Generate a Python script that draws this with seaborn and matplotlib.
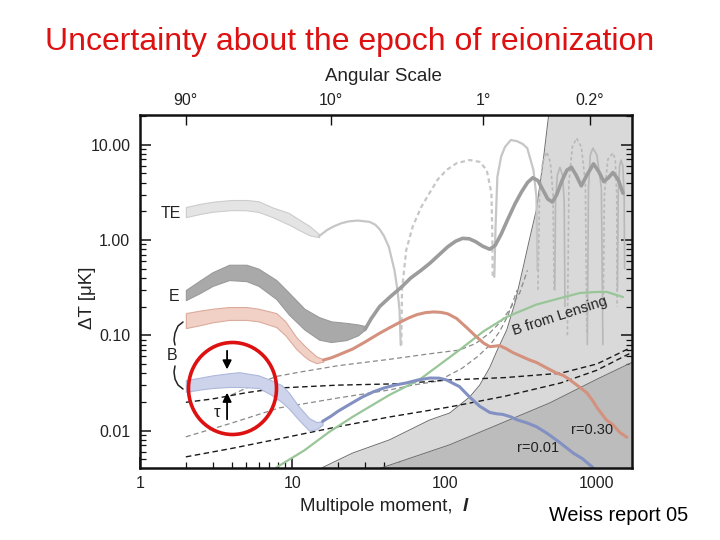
import numpy as np
import pandas as pd
import matplotlib
matplotlib.use("Agg")
import matplotlib.pyplot as plt
from matplotlib.lines import Line2D
from matplotlib.patches import Ellipse
from matplotlib.ticker import LogLocator, NullLocator, NullFormatter
import seaborn as sns

# ---------------- data ----------------
# foreground / noise regions
light_l = [15.8, 24.8, 43.5, 79.6, 108, 146, 170, 198, 220, 256, 290, 325, 360, 400, 440, 483, 1700]
light_v = [0.0041, 0.0058, 0.0080, 0.0129, 0.0153, 0.0225, 0.03, 0.046, 0.068, 0.114, 0.22, 0.485, 1.0, 2.06, 6.0, 21.0, 21.0]
dark_l = [37.4, 108, 200, 490, 1000, 1700]
dark_v = [0.004, 0.0071, 0.0107, 0.0195, 0.0346, 0.052]

# TE band and |TE| curve
te_band_l = [2, 2.5, 3, 4, 5, 6, 7.4, 9.5, 11, 13, 15]
te_band_lo = [1.74, 1.88, 1.98, 2.06, 2.05, 1.97, 1.74, 1.45, 1.28, 1.12, 1.07]
te_band_hi = [2.22, 2.40, 2.52, 2.63, 2.63, 2.55, 2.20, 1.92, 1.65, 1.40, 1.15]
te_s1_l = [15, 17, 18.9, 21, 23.6, 27, 32.1, 35, 37.4, 40, 43, 46.9, 49, 50.6, 51.5]
te_s1_v = [1.10, 1.28, 1.40, 1.50, 1.57, 1.60, 1.55, 1.45, 1.30, 1.1, 0.85, 0.48, 0.3, 0.184, 0.079]
te_d1_l = [52, 52.5, 56, 61.6, 70, 79.6, 90, 103, 120, 146, 170, 189, 203, 206, 207]
te_d1_v = [0.079, 0.30, 0.786, 1.37, 2.2, 3.11, 4.3, 5.43, 6.4, 6.91, 6.6, 5.43, 3.11, 1.0, 0.41]
te_s2_l = [212, 216, 222, 235, 249, 272, 298, 325, 349, 383, 401, 407]
te_s2_v = [0.41, 1.37, 4.58, 7.5, 9.45, 11.2, 10.9, 10.2, 9.2, 5.43, 2.83, 0.485]
te_arches_dashed = [
    ([410, 420, 440, 469, 495, 515, 524], [0.3, 3.0, 6.5, 8.4, 6.5, 3.0, 0.3]),
    ([640, 655, 690, 735, 790, 840, 859], [0.1, 4.0, 9.5, 11.7, 9.5, 4.0, 0.1]),
    ([1100, 1120, 1180, 1274, 1320, 1350, 1357], [0.2, 3.0, 7.0, 8.2, 7.0, 3.0, 0.2]),
]
te_arches_solid = [
    ([529, 535, 550, 572, 595, 610, 617], [0.3, 2.5, 4.8, 5.8, 4.8, 2.5, 0.2]),
    ([865, 880, 905, 941, 1000, 1070, 1095], [0.08, 3.5, 7.8, 9.2, 7.8, 3.5, 0.08]),
    ([1365, 1380, 1410, 1440, 1480, 1510, 1520], [0.3, 3.0, 6.0, 6.9, 6.0, 3.0, 0.5]),
]

# E band and curve
e_band_l = [2, 2.5, 3, 3.85, 5, 6, 7.85, 9.5, 12, 15, 18, 22.6, 27, 30]
e_band_lo = [0.234, 0.28, 0.33, 0.38, 0.37, 0.33, 0.24, 0.165, 0.115, 0.09, 0.085, 0.089, 0.10, 0.115]
e_band_hi = [0.299, 0.38, 0.46, 0.55, 0.55, 0.50, 0.38, 0.28, 0.19, 0.155, 0.14, 0.135, 0.13, 0.125]
e_l = [30, 33, 37.4, 43.5, 52, 60, 70, 80, 92, 105, 118, 131, 145, 160, 178, 198, 215, 235, 260,
       290, 320, 350, 379, 410, 440, 475, 510, 545, 590, 635, 680, 730, 790, 860, 950, 1030, 1110,
       1190, 1274, 1380, 1483]
e_v = [0.115, 0.15, 0.2, 0.25, 0.32, 0.40, 0.48, 0.57, 0.70, 0.85, 0.97, 1.04, 1.03, 0.96, 0.86,
       0.80, 0.88, 1.15, 1.65, 2.4, 3.2, 4.0, 4.5, 4.2, 3.4, 2.7, 2.5, 3.0, 4.2, 5.4, 5.8, 4.8, 3.7,
       4.8, 6.3, 5.2, 4.1, 4.5, 5.1, 4.3, 3.1]

# B mode, r = 0.30
rb_l = [2, 2.5, 3, 3.85, 5, 6, 7.85, 9, 10.6, 12, 12.9, 14.4, 16]
rb_lo = [0.119, 0.128, 0.137, 0.145, 0.145, 0.14, 0.122, 0.10, 0.072, 0.060, 0.055, 0.051, 0.053]
rb_hi = [0.171, 0.182, 0.19, 0.198, 0.198, 0.19, 0.171, 0.14, 0.096, 0.078, 0.070, 0.060, 0.056]
r30_l = [16, 18, 20, 25, 30, 37.4, 43.5, 50, 58, 66, 75, 85, 95, 105, 120, 140, 160, 180, 198,
         215, 230, 255, 280, 320, 362, 400, 450, 500, 546, 600, 650, 700, 760, 859, 930, 1000,
         1150, 1274, 1420, 1574]
r30_v = [0.055, 0.058, 0.062, 0.072, 0.085, 0.105, 0.12, 0.135, 0.152, 0.165, 0.173, 0.176, 0.174,
         0.168, 0.15, 0.12, 0.098, 0.083, 0.076, 0.077, 0.078, 0.072, 0.066, 0.060, 0.055, 0.052,
         0.047, 0.043, 0.040, 0.038, 0.035, 0.032, 0.029, 0.0249, 0.021, 0.0175, 0.013, 0.0115,
         0.0095, 0.0085]

# B mode, r = 0.01
bb_l = [2, 2.5, 3, 3.85, 4.48, 6, 7.2, 8.5, 9.5, 11, 12.9, 14.4, 15.8]
bb_lo = [0.0255, 0.027, 0.028, 0.0287, 0.0287, 0.028, 0.024, 0.02, 0.017, 0.013, 0.0100, 0.0103, 0.0115]
bb_hi = [0.0339, 0.036, 0.038, 0.040, 0.041, 0.038, 0.034, 0.030, 0.025, 0.018, 0.0135, 0.0123, 0.0125]
r01_l = [15.8, 18, 20, 24, 28.8, 34, 40, 47, 56, 67, 80, 92, 103, 115, 125, 146, 170, 198, 220,
         240, 270, 298, 350, 400, 469, 570, 700, 800, 941]
r01_v = [0.0125, 0.0142, 0.016, 0.019, 0.0225, 0.0255, 0.028, 0.030, 0.0316, 0.034, 0.0356,
         0.0355, 0.034, 0.031, 0.029, 0.0225, 0.018, 0.0155, 0.015, 0.0148, 0.014, 0.013, 0.012,
         0.011, 0.0094, 0.0075, 0.0058, 0.0051, 0.0041]

# B from lensing
lens_l = [7.85, 12, 17.5, 25, 43.5, 68, 125, 180, 256, 400, 600, 773, 1000, 1164, 1483]
lens_v = [0.0041, 0.0062, 0.0097, 0.014, 0.0237, 0.034, 0.07, 0.11, 0.156, 0.21, 0.25, 0.278, 0.285, 0.285, 0.252]

# dashed curves
g1_l = [3.57, 5, 7.85, 11.1, 20, 43.5, 80, 125, 160, 198, 235, 266, 311, 350]
g1_v = [0.0218, 0.028, 0.037, 0.041, 0.048, 0.056, 0.064, 0.070, 0.082, 0.106, 0.14, 0.184, 0.278, 0.48]
g2_l = [2, 4, 8.2, 20, 43.5, 61.6, 90, 130, 165, 200, 230, 260, 300]
g2_v = [0.0086, 0.012, 0.0173, 0.022, 0.0267, 0.030, 0.033, 0.045, 0.06, 0.08, 0.11, 0.16, 0.3]
k1_l = [2, 3, 5, 8.2, 20, 50, 108, 250, 578, 1000, 1660]
k1_v = [0.0198, 0.0215, 0.025, 0.028, 0.030, 0.031, 0.034, 0.036, 0.040, 0.05, 0.074]
k2_l = [2, 4, 8.2, 20, 43.5, 108, 250, 578, 1000, 1660]
k2_v = [0.0053, 0.0065, 0.0082, 0.011, 0.0139, 0.0177, 0.023, 0.0316, 0.043, 0.065]

x_ticks = [1, 10, 100, 1000]
x_ticklabels = ["1", "10", "100", "1000"]
y_ticks = [0.01, 0.1, 1, 10]
y_ticklabels = ["0.01", "0.10", "1.00", "10.00"]
top_ticks = [2, 18, 180, 900]
top_ticklabels = ["90°", "10°", "1°", "0.2°"]

# ---------------- style ----------------
sns.set_theme(style="white")
plt.rcParams['font.family'] = ['Liberation Sans', 'DejaVu Sans']
TXT = '#222222'

fig = plt.figure(figsize=(7.2, 5.4), dpi=100)
W, H = 720.0, 540.0
ax = fig.add_axes([140 / W, 1 - 468 / H, 492 / W, 353 / H])
ax.set_xscale('log')
ax.set_yscale('log')
ax.set_xlim(1, 1700)
ax.set_ylim(0.00405, 20.5)


def line(l, v, **kw):
    sns.lineplot(x=l, y=v, ax=ax, estimator=None, sort=False, legend=False, **kw)


# regions
ax.fill_between(light_l, 1e-4, light_v, color='#d9d9d9', lw=0, zorder=0.5)
line(light_l[:-1], light_v[:-1], color='#6e6e6e', lw=0.7, zorder=0.6)
ax.fill_between(dark_l, 1e-4, dark_v, color='#bcbcbc', lw=0, zorder=0.7)
line(dark_l, dark_v, color='#6e6e6e', lw=0.7, zorder=0.8)

# dashed curves
dash = (0, (4, 2.5))
line(g1_l, g1_v, color='#8a8a8a', lw=0.9, linestyle=dash, zorder=2)
line(g2_l, g2_v, color='#8a8a8a', lw=0.9, linestyle=dash, zorder=2)
line(k1_l, k1_v, color='#1a1a1a', lw=1.0, linestyle=dash, zorder=2)
line(k2_l, k2_v, color='#1a1a1a', lw=1.0, linestyle=dash, zorder=2)

# TE
ax.fill_between(te_band_l, te_band_lo, te_band_hi, facecolor='#e4e4e4', edgecolor='#cccccc', lw=0.8, zorder=3)
line(te_s1_l, te_s1_v, color='#c6c6c6', lw=1.6, zorder=3)
line(te_d1_l, te_d1_v, color='#c6c6c6', lw=1.6, linestyle=(0, (2, 1.5)), zorder=3)
line(te_s2_l, te_s2_v, color='#c6c6c6', lw=1.6, zorder=3)
for al, av in te_arches_dashed:
    line(al, av, color='#b8b8b8', lw=1.2, linestyle=(0, (2, 1.5)), zorder=3)
for al, av in te_arches_solid:
    line(al, av, color='#b8b8b8', lw=1.2, zorder=3)

# E
ax.fill_between(e_band_l, e_band_lo, e_band_hi, facecolor='#a9a9a9', edgecolor='#9a9a9a', lw=0.8, zorder=4)
line(e_l, e_v, color='#9c9c9c', lw=2.6, zorder=4)

# lensing B
line(lens_l, lens_v, color='#98c698', lw=1.6, zorder=4)

# B r=0.30
ax.fill_between(rb_l, rb_lo, rb_hi, facecolor='#f1d0c6', edgecolor='#dcab9c', lw=0.8, zorder=4)
line(r30_l, r30_v, color='#d4917e', lw=2.2, zorder=4.5)

# B r=0.01
ax.fill_between(bb_l, bb_lo, bb_hi, facecolor='#ccd3ea', edgecolor='#aeb8dc', lw=0.8, zorder=4)
line(r01_l, r01_v, color='#8390c2', lw=2.2, zorder=4.5)

# ---------------- axes cosmetics ----------------
for s in ax.spines.values():
    s.set_color('#111111')
    s.set_linewidth(1.8)
    s.set_zorder(10)
ax.set_xticks(x_ticks)
ax.set_xticklabels(x_ticklabels)
ax.set_yticks(y_ticks)
ax.set_yticklabels(y_ticklabels)
ax.xaxis.set_minor_locator(LogLocator(base=10, subs=np.arange(2, 10)))
ax.yaxis.set_minor_locator(LogLocator(base=10, subs=np.arange(2, 10)))
ax.xaxis.set_minor_formatter(NullFormatter())
ax.yaxis.set_minor_formatter(NullFormatter())
ax.tick_params(which='both', direction='in', bottom=True, left=True, right=True, top=False,
               colors='#111111', labelcolor=TXT, labelsize=11.5)
ax.tick_params(which='major', length=8, width=1.1)
ax.tick_params(which='minor', length=4.5, width=0.9)
ax.tick_params(axis='y', which='major', pad=7)
ax.tick_params(axis='x', which='major', pad=6)
ax.set_xlabel('')
ax.set_ylabel('')

ax2 = ax.twiny()
ax2.set_xscale('log')
ax2.set_xlim(ax.get_xlim())
ax2.set_xticks(top_ticks)
ax2.set_xticklabels(top_ticklabels)
ax2.xaxis.set_minor_locator(NullLocator())
ax2.tick_params(axis='x', which='major', direction='in', length=7, width=1.0, top=True,
                colors='#111111', labelcolor=TXT, labelsize=11.5, pad=5)
for s in ax2.spines.values():
    s.set_visible(False)

# ---------------- labels / annotations ----------------
ax.text(1.6, 1.92, 'TE', fontsize=11.5, color=TXT, ha='center', va='center', zorder=6)
ax.text(1.67, 0.253, 'E', fontsize=11.5, color=TXT, ha='center', va='center', zorder=6)
ax.text(1.63, 0.0607, 'B', fontsize=11.5, color=TXT, ha='center', va='center', zorder=6)
ax.text(3.21, 0.0153, 'τ', fontsize=12, color=TXT, ha='center', va='center', zorder=6)
ax.text(927, 0.0101, 'r=0.30', fontsize=10.5, color=TXT, ha='center', va='center', zorder=6)
ax.text(409, 0.0066, 'r=0.01', fontsize=10.5, color=TXT, ha='center', va='center', zorder=6)
ax.text(571, 0.16, 'B from Lensing', fontsize=10.5, color=TXT, ha='center', va='center',
        rotation=18, rotation_mode='anchor', zorder=6)

ax.annotate('', xy=(3.73, 0.041), xytext=(3.73, 0.0736),
            arrowprops=dict(arrowstyle='-|>', color='black', lw=1.3, mutation_scale=13), zorder=7)
ax.annotate('', xy=(3.73, 0.0267), xytext=(3.73, 0.0123),
            arrowprops=dict(arrowstyle='-|>', color='black', lw=1.3, mutation_scale=13), zorder=7)


def px(xs, ys):
    return [x / W for x in xs], [1 - y / H for y in ys]


bx1, by1 = px([183, 178, 175, 174, 175], [322, 326, 333, 340, 345])
bx2, by2 = px([175, 174, 175, 178, 183], [366, 372, 379, 385, 389])
fig.add_artist(Line2D(bx1, by1, transform=fig.transFigure, color=TXT, lw=1.1))
fig.add_artist(Line2D(bx2, by2, transform=fig.transFigure, color=TXT, lw=1.1))

fig.add_artist(Ellipse((232.5 / W, 1 - 388.5 / H), 88 / W, 92 / H, transform=fig.transFigure,
                       fill=False, edgecolor='#dd1111', lw=2.6, zorder=20))

fig.text(350 / W, 1 - 50 / H, 'Uncertainty about the epoch of reionization', color='#dd1111',
         fontsize=23, ha='center', va='baseline')
fig.text(383 / W, 1 - 81 / H, 'Angular Scale', color=TXT, fontsize=13.5, ha='center', va='baseline')
fig.text(300 / W, 1 - 511 / H, 'Multipole moment,', color=TXT, fontsize=13.5, ha='left', va='baseline')
fig.text(463 / W, 1 - 511 / H, 'l', color=TXT, fontsize=13.5, ha='left', va='baseline',
         style='italic', weight='bold')
fig.text(88 / W, 1 - 298 / H, 'ΔT [μK]', color=TXT, fontsize=13.5, ha='center', va='center', rotation=90)
fig.text(549 / W, 1 - 521 / H, 'Weiss report 05', color='black', fontsize=14.3, ha='left', va='baseline')

fig.savefig('out.png', dpi=100)
